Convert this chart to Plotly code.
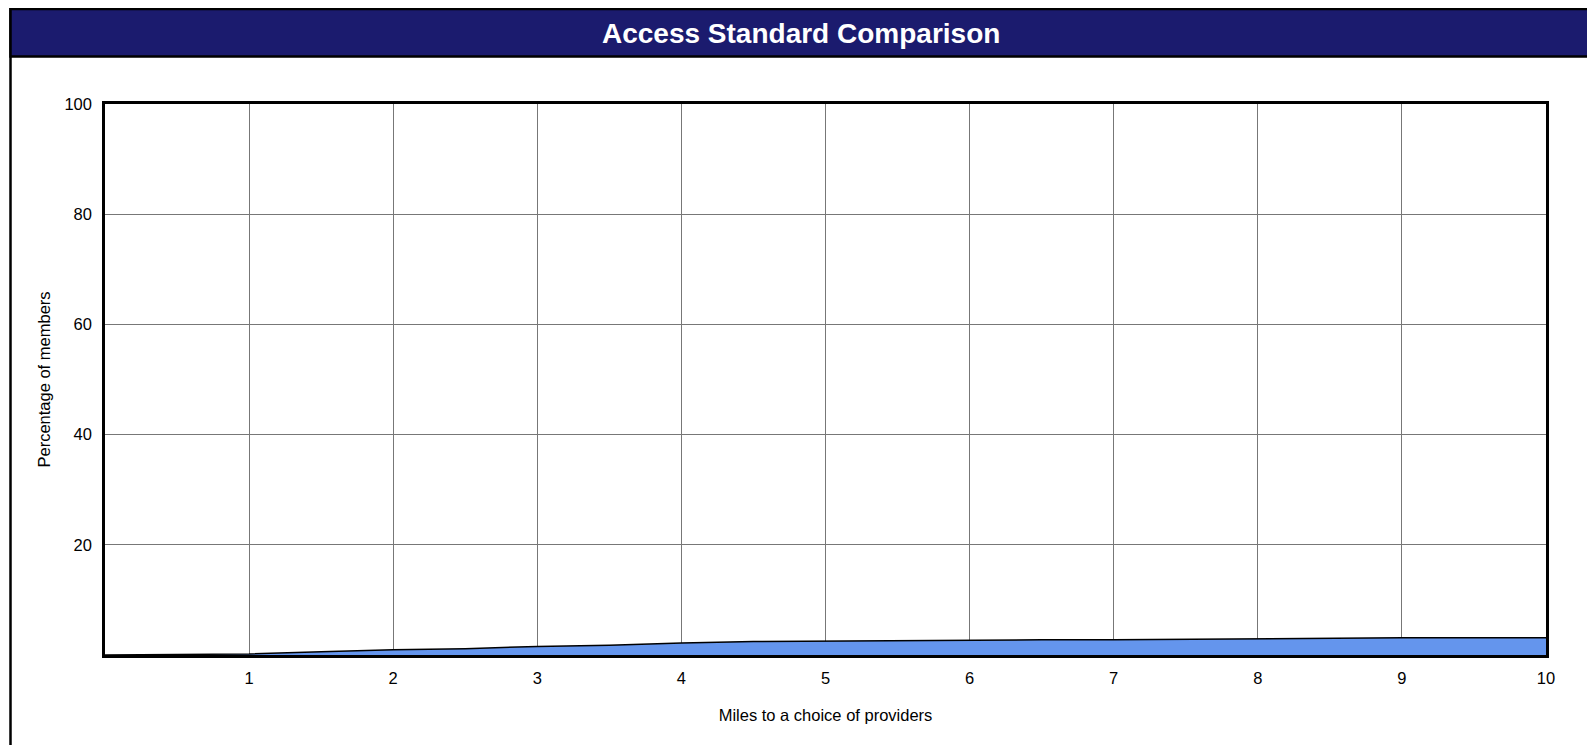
import plotly.graph_objects as go

miles = [0, 0.5, 1, 1.5, 2, 2.5, 3, 3.5, 4, 4.5, 5, 5.5, 6, 6.5, 7, 7.5, 8, 8.5, 9, 9.5, 10]
pct_members = [0, 0.05, 0.2, 0.6, 0.95, 1.15, 1.55, 1.75, 2.2, 2.45, 2.55, 2.6, 2.75, 2.75, 2.75, 2.85, 2.95, 3.1, 3.15, 3.15, 3.15]
x_ticks = [1, 2, 3, 4, 5, 6, 7, 8, 9, 10]
y_ticks = [20, 40, 60, 80, 100]

title_text = "Access Standard Comparison"
x_title = "Miles to a choice of providers"
y_title = "Percentage of members"

W, H = 1595, 745
L, R, T, B = 97, 1538, 96, 647

def px(x):
    return (x - L) / (R - L)

def py(y):
    return (B - y) / (B - T)

FONT = "Liberation Sans, Arial, sans-serif"

fig = go.Figure()
fig.add_trace(go.Scatter(
    x=miles, y=pct_members, mode="lines", fill="tozeroy",
    fillcolor="#6495ED", line=dict(color="black", width=1.5),
    hoverinfo="x+y", showlegend=False,
))

fig.update_layout(
    width=W, height=H,
    margin=dict(l=L, r=W - R, t=T, b=H - B, autoexpand=False),
    paper_bgcolor="white", plot_bgcolor="white",
    font=dict(family=FONT, size=16.5, color="black"),
    showlegend=False,
    xaxis=dict(
        range=[0, 10], tickvals=x_ticks, ticktext=[str(v) for v in x_ticks],
        showgrid=True, gridcolor="#777777", gridwidth=1.2,
        showline=True, linecolor="black", linewidth=2.5, mirror=True,
        ticks="", ticklabelstandoff=6, zeroline=False,
        title=dict(text=x_title, standoff=24, font=dict(size=16.5)),
        fixedrange=True,
    ),
    yaxis=dict(
        range=[0, 100], tickvals=y_ticks, ticktext=[str(v) for v in y_ticks],
        showgrid=True, gridcolor="#777777", gridwidth=1.2,
        showline=True, linecolor="black", linewidth=2.5, mirror=True,
        ticks="", ticklabelstandoff=7, zeroline=False,
        title=dict(text=y_title, standoff=10, font=dict(size=16.5)),
        fixedrange=True,
    ),
    shapes=[
        # outer white panel
        dict(type="rect", xref="paper", yref="paper",
             x0=px(2.5), x1=px(1585), y0=py(760), y1=py(1),
             line=dict(color="black", width=2.5), fillcolor="rgba(0,0,0,0)", layer="below"),
        # title bar
        dict(type="rect", xref="paper", yref="paper",
             x0=px(2.5), x1=px(1585), y0=py(48.5), y1=py(1),
             line=dict(color="black", width=2.5), fillcolor="#1B1B6E", layer="above"),
    ],
    annotations=[
        dict(text="<b>" + title_text + "</b>", xref="paper", yref="paper",
             x=px(793), y=py(25.5), xanchor="center", yanchor="middle",
             showarrow=False,
             font=dict(family="Liberation Sans, Arial, sans-serif", size=28, color="white")),
    ],
)

fig.write_html("out.html")
